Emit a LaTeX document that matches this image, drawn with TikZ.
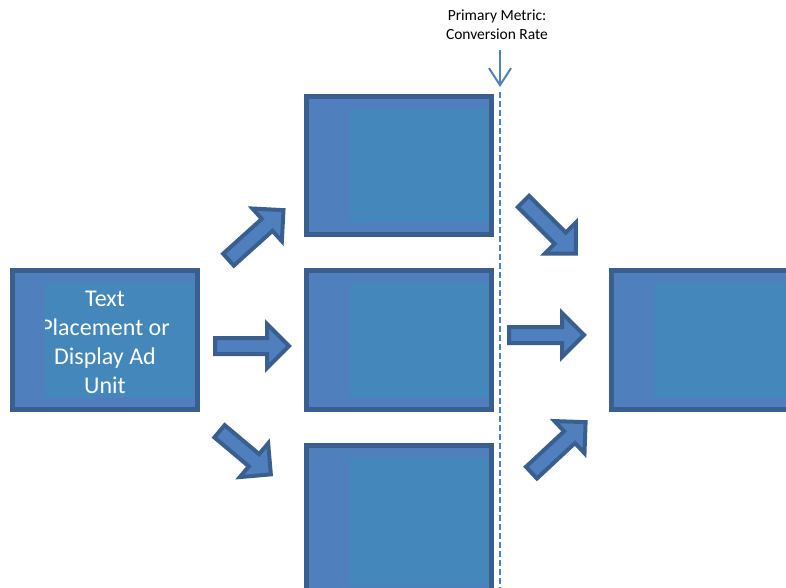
\documentclass[tikz,border=0pt]{standalone}
\usepackage{fontspec}
\setmainfont{Carlito}
\usetikzlibrary{calc,arrows.meta}
\definecolor{bordc}{HTML}{3A5F8E}
\definecolor{outc}{HTML}{4F7FBD}
\definecolor{inc}{HTML}{4487BA}
\definecolor{dashc}{HTML}{4F81BD}
\tikzset{
  box/.style={draw=bordc, line width=5pt, fill=outc, inner sep=0pt, minimum width=185pt, minimum height=139pt},
  arrowline/.style={draw=bordc, fill=outc, line width=4pt, line join=miter},
  pics/barrow/.style={code={
    \path[arrowline] (2,-8) -- ({#1-22},-8) -- ({#1-22},-22) -- (#1,0) -- ({#1-22},22) -- ({#1-22},8) -- (2,8) -- cycle;}},
  innerfill/.style={fill=inc},
  boxtext/.style={text=white, align=center, font=\fontsize{24}{29}\selectfont},
  metrictext/.style={text=black, align=center, font=\fontsize{15.5}{19}\selectfont},
}
\begin{document}
\begin{tikzpicture}[x=1pt,y=-1pt]
\useasboundingbox (0,0) rectangle (786,587);
\clip (0,0) rectangle (786,587);

% boxes
\node[box] (b1) at (105,340) {};
\node[box, minimum height=138pt] (b2) at (399,165.5) {};
\node[box] (b3) at (399,340) {};
\node[box, minimum height=152pt] (b4) at (399,521.5) {};
\node[box, minimum width=187pt] (b5) at (704.5,340) {};

% inner lighter areas (anchors lie on the outer edge of the border)
\fill[innerfill] ($(b1.north west)+(35,15)$) rectangle ($(b1.south east)+(-5,-15)$);
\foreach \b in {b2,b3,b4,b5}{
  \fill[innerfill] ($(\b.north west)+(46,15)$) rectangle ($(\b.south east)+(-5,-15)$);
}

% text of the left box, clipped to its inner area
\begin{scope}
  \clip ($(b1.north west)+(35,0)$) rectangle (b1.south east);
  \node[boxtext] (t1) at (105,342) {Text\\Placement or\\Display Ad\\Unit};
\end{scope}

% block arrows
\coordinate (a1) at (227,261);
\coordinate (a2) at (213,346);
\coordinate (a3) at (218,430);
\coordinate (a4) at (522,200);
\coordinate (a5) at (507,335);
\coordinate (a6) at (530,474);
\pic (p1) [rotate=42]  at (a1) {barrow=76};
\pic (p2)              at (a2) {barrow=76};
\pic (p3) [rotate=-40] at (a3) {barrow=69};
\pic (p4) [rotate=-45] at (a4) {barrow=76};
\pic (p5)              at (a5) {barrow=77};
\pic (p6) [rotate=43]  at (a6) {barrow=76};

% metric label and dashed line
\node[metrictext] (metric) at (497,25) {Primary Metric:\\Conversion Rate};
\coordinate (mtail) at (500,50);
\coordinate (mtip) at (500,87);
\draw[dashc, line width=2pt, -{Straight Barb[length=17pt,width=22pt]}] (mtail) -- (mtip);
\coordinate (dtop) at (500,92);
\coordinate (dbot) at (500,592);
\draw[dashc, line width=2pt, dash pattern=on 6pt off 3pt] (dtop) -- (dbot);
\end{tikzpicture}
\end{document}
